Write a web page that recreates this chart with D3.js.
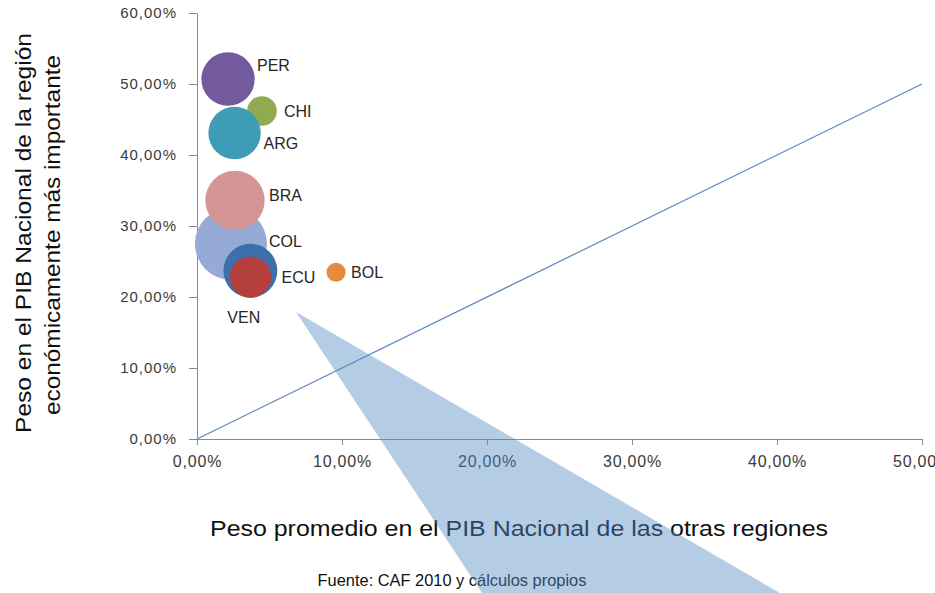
<!DOCTYPE html>
<html>
<head>
<meta charset="utf-8">
<script src="https://cdn.jsdelivr.net/npm/d3@7"></script>
<style>
  body { margin: 0; background: #fff; }
  svg { font-family: "Liberation Sans", Arial, sans-serif; display: block; }
</style>
</head>
<body>
<div id="chart"></div>
<script>
// Data (shares of national GDP)
const paises   = ["COL", "BRA", "CHI", "PER", "ARG", "VEN", "ECU", "BOL"];
const pesoOtras = [0.0234, 0.0262, 0.0448, 0.0214, 0.0259, 0.0368, 0.0369, 0.0959];   // x
const pesoMayor = [0.275, 0.336, 0.462, 0.507, 0.431, 0.237, 0.228, 0.235];            // y
const tamano   = [100, 68, 17, 55, 53, 56, 33, 7];                                     // bubble size
const colores  = ["#95abd5", "#d69595", "#8faa4f", "#735a9f", "#3f9cb6", "#3d6fab", "#b43f3d", "#e48b3e"];
// label offsets from the bubble centre, px (label left edge, baseline)
const etiquetaDx = [38, 34, 22, 29, 29, -23, 31, 15];
const etiquetaDy = [3, 1, 6, -8, 16, 52, 6, 6];

const xTicks = [0, 0.1, 0.2, 0.3, 0.4, 0.5];
const yTicks = [0, 0.1, 0.2, 0.3, 0.4, 0.5, 0.6];
const diagonal = [[0, 0], [0.5, 0.5]];
// callout triangle, in data units
const flecha = [[0.0683, 0.179], [0.1966, -0.217], [0.402, -0.217]];

const W = 935, H = 593;
const margin = {top: 13, right: 13, bottom: 154, left: 197};

const svg = d3.select("#chart").append("svg")
    .attr("width", W)
    .attr("height", H);

const x = d3.scaleLinear().domain([0, 0.5]).range([margin.left, W - margin.right]);
const y = d3.scaleLinear().domain([0, 0.6]).range([H - margin.bottom, margin.top]);
const r = d3.scaleSqrt().domain([0, 100]).range([0, 36]);

const fmt = d => d3.format(".2f")(d * 100).replace(".", ",") + "%";

// axes
const gx = svg.append("g")
    .attr("transform", "translate(0," + y(0) + ")")
    .call(d3.axisBottom(x).tickValues(xTicks).tickFormat(fmt).tickSize(6).tickSizeOuter(0).tickPadding(11));
gx.selectAll("text")
    .style("font-size", "16px")
    .style("letter-spacing", "0.8px")
    .attr("fill", "#3a3a3a");

const gy = svg.append("g")
    .attr("transform", "translate(" + x(0) + ",0)")
    .call(d3.axisLeft(y).tickValues(yTicks).tickFormat(fmt).tickSize(8).tickSizeOuter(0).tickPadding(12));
gy.selectAll("text")
    .style("font-size", "15px")
    .style("letter-spacing", "1px")
    .attr("fill", "#3a3a3a");

svg.selectAll(".domain, .tick line").attr("stroke", "#8a8a8a");

// 45 degree reference line
svg.append("path")
    .attr("d", d3.line().x(d => x(d[0])).y(d => y(d[1]))(diagonal))
    .attr("fill", "none")
    .attr("stroke", "#5f88bf")
    .attr("stroke-width", 1.2);

// bubbles
const datos = paises.map((p, i) => ({
    pais: p, xv: pesoOtras[i], yv: pesoMayor[i], s: tamano[i],
    color: colores[i], dx: etiquetaDx[i], dy: etiquetaDy[i]
}));

svg.append("g").selectAll("circle")
    .data(datos)
    .join("circle")
        .attr("cx", d => x(d.xv))
        .attr("cy", d => y(d.yv))
        .attr("r", d => r(d.s))
        .attr("fill", d => d.color);

svg.append("g").selectAll("text")
    .data(datos)
    .join("text")
        .attr("x", d => x(d.xv) + d.dx)
        .attr("y", d => y(d.yv) + d.dy)
        .attr("font-size", 16)
        .attr("fill", "#262626")
        .text(d => d.pais);

// axis titles
svg.append("text")
    .attr("transform", "translate(31," + 233 + ") rotate(-90)")
    .attr("text-anchor", "middle")
    .attr("font-size", 22)
    .attr("textLength", 400)
    .attr("lengthAdjust", "spacingAndGlyphs")
    .attr("fill", "#111")
    .text("Peso en el PIB Nacional de la región");

svg.append("text")
    .attr("transform", "translate(60," + 235 + ") rotate(-90)")
    .attr("text-anchor", "middle")
    .attr("font-size", 22)
    .attr("textLength", 360)
    .attr("lengthAdjust", "spacingAndGlyphs")
    .attr("fill", "#111")
    .text("económicamente más importante");

svg.append("text")
    .attr("x", 519)
    .attr("y", 536)
    .attr("text-anchor", "middle")
    .attr("font-size", 22)
    .attr("textLength", 618)
    .attr("lengthAdjust", "spacingAndGlyphs")
    .attr("fill", "#111")
    .text("Peso promedio en el PIB Nacional de las otras regiones");

svg.append("text")
    .attr("x", 452)
    .attr("y", 586)
    .attr("text-anchor", "middle")
    .attr("font-size", 16.4)
    .attr("fill", "#111")
    .text("Fuente: CAF 2010 y cálculos propios");

// translucent callout on top
svg.append("path")
    .attr("d", d3.line().x(d => x(d[0])).y(d => y(d[1]))(flecha) + "Z")
    .attr("fill", "#5388c3")
    .attr("fill-opacity", 0.43);
</script>
</body>
</html>
